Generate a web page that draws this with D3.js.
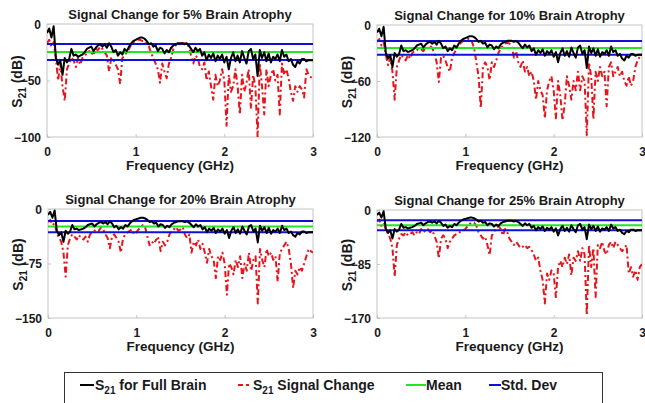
<!DOCTYPE html>
<html><head><meta charset="utf-8">
<script src="https://cdn.jsdelivr.net/npm/d3@7"></script>
<style>body{margin:0;background:#fff}svg{display:block}text{font-family:"Liberation Sans",Arial,sans-serif;font-weight:bold;fill:#1a1a1a}</style>
</head><body><svg id="c" width="645" height="403"></svg>
<script>
const freq = [0,0.025,0.05,0.075,0.1,0.125,0.15,0.175,0.2,0.225,0.25,0.275,0.3,0.325,0.35,0.375,0.4,0.425,0.45,0.475,
0.5,0.525,0.55,0.575,0.6,0.625,0.65,0.675,0.7,0.725,0.75,0.775,0.8,0.825,0.85,0.875,0.9,0.925,0.95,0.975,
1,1.025,1.05,1.075,1.1,1.125,1.15,1.175,1.2,1.225,1.25,1.275,1.3,1.325,1.35,1.375,1.4,1.425,1.45,1.475,
1.5,1.525,1.55,1.575,1.6,1.625,1.65,1.675,1.7,1.725,1.75,1.775,1.8,1.825,1.85,1.875,1.9,1.925,1.95,1.975,
2,2.025,2.05,2.075,2.1,2.125,2.15,2.175,2.2,2.225,2.25,2.275,2.3,2.325,2.35,2.375,2.4,2.425,2.45,2.475,
2.5,2.525,2.55,2.575,2.6,2.625,2.65,2.675,2.7,2.725,2.75,2.775,2.8,2.825,2.85,2.875,2.9,2.925,2.95,2.975,3];

const fullBrain = [-8,-4,-12,-2,-30,-36,-32,-45,-30,-34,-31,-22,-28,-27,-29,-28,-27,-25,-22,-21,
-20,-24,-21,-19,-18,-20,-18,-21,-17,-20,-25,-23,-28,-25,-27,-22,-24,-20,-17,-15,
-14,-13,-12,-12,-13,-15,-18,-17,-20,-19,-24,-21,-22,-26,-23,-25,-21,-19,-18,-17,
-17,-17,-18,-17,-19,-22,-25,-21,-24,-22,-28,-25,-32,-27,-30,-26,-33,-28,-31,-27,
-34,-29,-40,-30,-25,-33,-28,-34,-24,-30,-35,-24,-22,-31,-27,-46,-23,-30,-25,-33,
-26,-34,-29,-31,-27,-33,-23,-29,-27,-33,-31,-36,-38,-33,-35,-31,-31,-33,-32,-32,-32];

const change5 = [-17,-14,-20,-16,-30,-50,-35,-55,-68,-40,-35,-30,-32,-38,-30,-36,-30,-28,-26,-24,
-25,-28,-22,-23,-20,-22,-25,-28,-42,-30,-32,-36,-40,-53,-30,-28,-25,-22,-18,-16,
-15,-14,-14,-15,-15,-18,-20,-26,-30,-35,-40,-52,-35,-42,-48,-35,-30,-22,-19,-18,
-18,-17,-17,-18,-20,-28,-35,-28,-30,-38,-40,-34,-50,-42,-55,-67,-45,-55,-50,-40,
-50,-90,-45,-60,-55,-40,-55,-80,-45,-60,-52,-40,-75,-45,-55,-100,-35,-55,-80,-40,
-55,-45,-40,-50,-45,-80,-35,-45,-40,-48,-60,-68,-55,-60,-55,-58,-65,-40,-45,-47,-48];

const change10 = [-18,-15,-22,-18,-32,-43,-35,-50,-80,-45,-38,-32,-35,-38,-32,-36,-30,-28,-27,-25,
-26,-28,-24,-25,-22,-25,-30,-40,-61,-35,-33,-38,-45,-50,-35,-30,-26,-22,-19,-17,
-16,-15,-15,-18,-25,-40,-55,-89,-45,-40,-45,-59,-40,-45,-38,-30,-25,-22,-20,-19,
-20,-23,-35,-28,-40,-45,-38,-50,-45,-55,-50,-60,-80,-60,-70,-75,-100,-70,-60,-55,
-70,-100,-60,-75,-102,-85,-55,-65,-80,-60,-70,-50,-70,-55,-60,-118,-40,-55,-101,-50,
-60,-45,-55,-50,-87,-45,-40,-55,-50,-45,-55,-50,-60,-65,-55,-65,-60,-45,-38,-34,-33];

const change20 = [-18,-15,-22,-20,-33,-40,-45,-60,-93,-50,-40,-35,-38,-42,-36,-40,-42,-38,-45,-35,
-32,-30,-28,-30,-25,-28,-35,-40,-54,-38,-35,-40,-45,-60,-40,-35,-32,-30,-28,-35,
-32,-28,-25,-22,-25,-38,-50,-45,-48,-42,-40,-58,-45,-50,-45,-35,-30,-28,-25,-30,
-28,-25,-35,-40,-35,-60,-45,-50,-42,-55,-48,-60,-74,-55,-65,-70,-95,-65,-70,-60,
-75,-118,-75,-80,-90,-70,-80,-65,-95,-75,-85,-60,-85,-70,-65,-130,-55,-70,-80,-55,
-65,-60,-70,-65,-100,-60,-55,-50,-45,-55,-75,-109,-85,-90,-80,-85,-75,-65,-55,-58,-60];

const change25 = [-18,-15,-25,-20,-30,-38,-45,-60,-105,-55,-45,-38,-40,-35,-40,-38,-35,-40,-35,-38,
-30,-35,-32,-30,-35,-32,-40,-50,-76,-45,-40,-45,-60,-50,-45,-40,-38,-35,-35,-32,
-30,-25,-22,-20,-20,-25,-35,-40,-45,-42,-55,-71,-40,-35,-28,-25,-30,-40,-30,-35,
-45,-50,-55,-50,-55,-60,-58,-55,-60,-58,-63,-70,-80,-75,-95,-110,-147,-100,-110,-95,
-100,-137,-90,-80,-90,-75,-85,-70,-103,-75,-80,-65,-80,-60,-70,-166,-55,-90,-60,-137,
-55,-60,-50,-65,-70,-55,-50,-60,-50,-55,-60,-65,-60,-55,-100,-90,-105,-95,-110,-90,-85];

const titles = ["Signal Change for 5% Brain Atrophy","Signal Change for 10% Brain Atrophy",
                "Signal Change for 20% Brain Atrophy","Signal Change for 25% Brain Atrophy"];
const yMins = [-100,-120,-150,-170];
const yTickVals = [[0,-50,-100],[0,-60,-120],[0,-75,-150],[0,-85,-170]];
const xTickVals = [0,1,2,3];
const meanVals = [-24.8,-24.6,-24.2,-24.0];
const stdVals = [7.1,7.4,7.8,8.0];
const changeSeries = [change5, change10, change20, change25];
const legendLabels = ["for Full Brain","Signal Change","Mean","Std. Dev"];

const boxes = [
  {x0:47,x1:313,y0:24,y1:137},
  {x0:377,x1:642,y0:25,y1:137},
  {x0:48,x1:313,y0:209,y1:318},
  {x0:377,x1:642,y0:210,y1:318}
];

const svg = d3.select("#c");
const defs = svg.append("defs");

boxes.forEach((b,i)=>{
  const x = d3.scaleLinear().domain([0,3]).range([b.x0,b.x1]);
  const y = d3.scaleLinear().domain([yMins[i],0]).range([b.y1,b.y0]);
  const g = svg.append("g");
  defs.append("clipPath").attr("id","clip"+i).append("rect")
    .attr("x",b.x0).attr("y",b.y0-1).attr("width",b.x1-b.x0).attr("height",b.y1-b.y0+1);

  g.append("rect").attr("x",b.x0).attr("y",b.y0).attr("width",b.x1-b.x0).attr("height",b.y1-b.y0)
    .attr("fill","none").attr("stroke","#c4c4c4").attr("stroke-width",1);

  const axB = d3.axisBottom(x).tickValues(xTickVals).tickFormat(d3.format("d")).tickSizeInner(-3).tickSizeOuter(0).tickPadding(8);
  const axL = d3.axisLeft(y).tickValues(yTickVals[i]).tickFormat(d3.format("d")).tickSizeInner(-3).tickSizeOuter(0).tickPadding(6);
  const gb = g.append("g").attr("transform",`translate(0,${b.y1})`).call(axB);
  const gl = g.append("g").attr("transform",`translate(${b.x0},0)`).call(axL);
  [gb,gl].forEach(a=>{
    a.select(".domain").remove();
    a.selectAll(".tick line").attr("stroke","#c4c4c4");
    a.selectAll(".tick text").style("font-family","'Liberation Sans',Arial,sans-serif")
      .style("font-weight","bold").style("font-size","12px").attr("fill","#1a1a1a");
  });
  gb.selectAll(".tick text").attr("dy","0.9em");
  gl.selectAll(".tick text").attr("dy","0.36em");

  const plot = g.append("g").attr("clip-path",`url(#clip${i})`);
  const line = d3.line().x((d,k)=>x(freq[k])).y(d=>y(d));

  plot.append("path").datum(changeSeries[i]).attr("d",line)
    .attr("fill","none").attr("stroke","#e8141c").attr("stroke-width",2)
    .attr("stroke-dasharray","6,3,2,3").attr("stroke-linejoin","round");
  const hl = (v,c)=>plot.append("line").attr("x1",x(0)).attr("x2",x(3)).attr("y1",y(v)).attr("y2",y(v))
    .attr("stroke",c).attr("stroke-width",2);
  hl(meanVals[i],"#22e622");
  hl(meanVals[i]+stdVals[i],"#1010d8");
  hl(meanVals[i]-stdVals[i],"#1010d8");
  plot.append("path").datum(fullBrain).attr("d",line)
    .attr("fill","none").attr("stroke","#000").attr("stroke-width",2).attr("stroke-linejoin","round");

  g.append("text").attr("x",(b.x0+b.x1)/2).attr("y",b.y0-5).attr("text-anchor","middle")
    .style("font-size","13px").text(titles[i]);
  g.append("text").attr("x",(b.x0+b.x1)/2).attr("y",b.y1+33).attr("text-anchor","middle")
    .style("font-size","13.5px").text("Frequency (GHz)");
  const yl = g.append("text").attr("transform",`translate(${b.x0-25},${(b.y0+b.y1)/2+1}) rotate(-90)`)
    .attr("text-anchor","middle").style("font-size","14px");
  yl.append("tspan").text("S");
  yl.append("tspan").attr("dy",4).style("font-size","10px").text("21");
  yl.append("tspan").attr("dy",-4).text(" (dB)");
});

const lg = svg.append("g");
lg.append("rect").attr("x",64.5).attr("y",372.5).attr("width",538).attr("height",40)
  .attr("fill","#fff").attr("stroke","#333").attr("stroke-width",1);
const ly = 385;
const items = [
  {x1:80,x2:94,c:"#000",dash:null,tx:95,sub:true,label:legendLabels[0]},
  {x1:238,x2:252,c:"#e8141c",dash:"5,3,3,3",tx:253,sub:true,label:legendLabels[1]},
  {x1:406,x2:426,c:"#22e622",dash:null,tx:426,sub:false,label:legendLabels[2]},
  {x1:489,x2:501,c:"#1010d8",dash:null,tx:501,sub:false,label:legendLabels[3]}
];
items.forEach(it=>{
  lg.append("line").attr("x1",it.x1).attr("x2",it.x2).attr("y1",ly).attr("y2",ly)
    .attr("stroke",it.c).attr("stroke-width",2).attr("stroke-dasharray",it.dash);
  const t = lg.append("text").attr("x",it.tx).attr("y",ly+5).style("font-size","14px");
  if(it.sub){
    t.append("tspan").text("S");
    t.append("tspan").attr("dy",4).style("font-size","10px").text("21");
    t.append("tspan").attr("dy",-4).text(" "+it.label);
  } else {
    t.text(it.label);
  }
});
</script></body></html>
